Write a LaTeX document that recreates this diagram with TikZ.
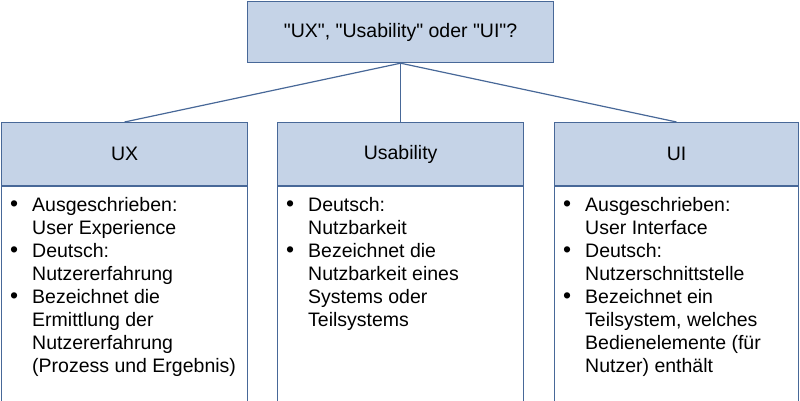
\documentclass[tikz,border=0pt]{standalone}
\usepackage{fontspec}
\setmainfont{Liberation Sans}
\newfontfamily\gerade{Liberation Sans}
\usetikzlibrary{positioning}

\definecolor{rahmen}{RGB}{72,104,152}
\definecolor{kopf}{RGB}{197,211,231}

\tikzset{
  kasten/.style={draw=rahmen,line width=1.2pt,inner sep=0pt,anchor=north west},
  kopfbox/.style={kasten,fill=kopf,minimum width=246pt,minimum height=63pt},
  rumpfbox/.style={kasten,fill=white,minimum width=246pt,minimum height=215pt},
  liste/.style={anchor=north west,inner sep=0pt,align=left},
  ast/.style={draw=rahmen,line width=1.2pt}
}
\newcommand{\pkt}{{\fontsize{23}{23}\selectfont\textbullet}}

\begin{document}
\begin{tikzpicture}[x=1pt,y=-1pt,font=\fontsize{19.5}{23}\selectfont]
  \useasboundingbox (0,0) rectangle (800,401);
  % oberer Kasten
  \node[kasten,fill=kopf,minimum width=306pt,minimum height=61pt] (frage) at (247,1)
    {\gerade "UX", "Usability" oder "UI"?};
  % Spaltenkoepfe
  \node[kopfbox] (ux) at (1,122) {UX};
  \node[kopfbox] (usab) at (277,122) {Usability};
  \node[kopfbox,minimum width=244pt] (ui) at (554,122) {UI};
  % Spalteninhalte
  \node[rumpfbox] (uxrumpf) at (ux.south west) {};
  \node[rumpfbox] (usabrumpf) at (usab.south west) {};
  \node[rumpfbox,minimum width=244pt] (uirumpf) at (ui.south west) {};
  \node[liste] (uxliste) at ([xshift=9pt,yshift=-9pt]uxrumpf.north west) {%
    \begin{tabular}{@{}p{22pt}@{}l@{}}
      \pkt & Ausgeschrieben:\\
           & User Experience\\
      \pkt & Deutsch:\\
           & Nutzererfahrung\\
      \pkt & Bezeichnet die\\
           & Ermittlung der\\
           & Nutzererfahrung\\
           & (Prozess und Ergebnis)
    \end{tabular}};
  \node[liste] (usabliste) at ([xshift=9pt,yshift=-9pt]usabrumpf.north west) {%
    \begin{tabular}{@{}p{22pt}@{}l@{}}
      \pkt & Deutsch:\\
           & Nutzbarkeit\\
      \pkt & Bezeichnet die\\
           & Nutzbarkeit eines\\
           & Systems oder\\
           & Teilsystems
    \end{tabular}};
  \node[liste] (uiliste) at ([xshift=9pt,yshift=-9pt]uirumpf.north west) {%
    \begin{tabular}{@{}p{22pt}@{}l@{}}
      \pkt & Ausgeschrieben:\\
           & User Interface\\
      \pkt & Deutsch:\\
           & Nutzerschnittstelle\\
      \pkt & Bezeichnet ein\\
           & Teilsystem, welches\\
           & Bedienelemente (für\\
           & Nutzer) enthält
    \end{tabular}};
  % Verbindungen
  \foreach \ziel in {ux,usab,ui}
    \draw[ast] (frage.south) -- (\ziel.north);
\end{tikzpicture}
\end{document}
